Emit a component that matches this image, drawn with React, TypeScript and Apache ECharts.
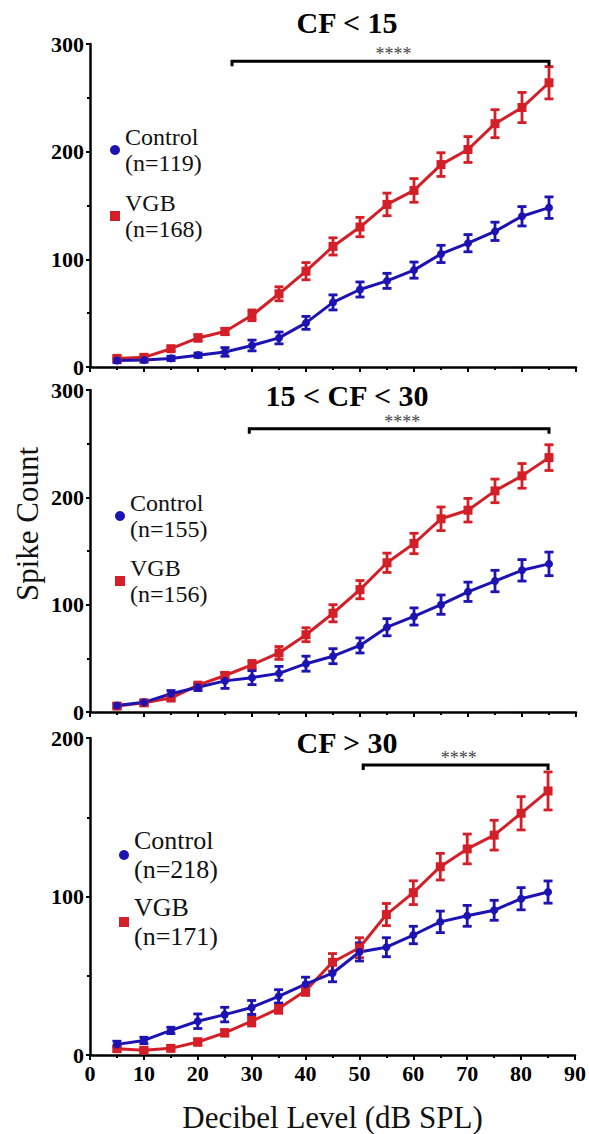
import React, { useEffect, useRef } from "react";
import * as echarts from "echarts";

// Sound levels (dB SPL) at which spikes were counted
const levels = [5, 10, 15, 20, 25, 30, 35, 40, 45, 50, 55, 60, 65, 70, 75, 80, 85];

// CF < 15
const control1 = [6, 6.5, 8, 11, 14, 20, 27, 41, 60, 72, 80, 90, 105, 115, 126, 140, 148];
const control1Err = [2, 2, 2, 2, 4, 5, 5.5, 6, 7, 7, 7, 7.5, 8, 8, 8.5, 9, 10];
const vgb1 = [8, 9, 17, 27, 33, 48, 68, 89, 112, 130, 151, 164, 188, 202, 226, 241, 264];
const vgb1Err = [2, 2, 2, 3, 3, 5, 6.5, 8, 8, 9, 10.5, 11, 11, 12, 13, 14, 15];

// 15 < CF < 30
const control2 = [6, 9, 17, 23, 29, 32, 36, 45, 52, 62, 79, 89, 100, 112, 122, 132, 138];
const control2Err = [2, 2, 3, 3, 7, 6.5, 6.5, 7, 7, 7, 8, 8, 9, 9, 10, 10, 11];
const vgb2 = [5.5, 8.5, 13, 25, 34, 44, 55, 72, 92, 114, 139, 157, 180, 188, 206, 220, 237];
const vgb2Err = [2, 2, 2, 2, 3, 4, 6, 6.5, 8, 8.5, 9, 9.5, 11, 11, 11, 11.5, 12];

// CF > 30
const control3 = [6.7, 9.2, 15.5, 21.3, 25.5, 30, 37, 44.7, 51.6, 65, 68, 75.7, 84, 87.8, 91.3, 98.6, 102.8];
const control3Err = [2, 2, 2, 4.6, 4.6, 4.4, 4.2, 4.4, 5.4, 5.7, 6, 5.5, 6.8, 6.6, 6.3, 7, 7];
const vgb3 = [4, 3, 4.2, 8.2, 14, 21.3, 29.3, 40.6, 58.5, 67.7, 88.6, 102.4, 118.8, 130, 138.7, 152.5, 166.6];
const vgb3Err = [1.5, 1.5, 1.5, 2, 2, 3, 3, 3, 5.5, 6.3, 7, 7.5, 8.4, 9.4, 9.4, 10.5, 12];

const panelTitles = ["CF < 15", "15 < CF < 30", "CF > 30"];
const controlNames = ["Control (n=119)", "Control (n=155)", "Control (n=218)"];
const vgbNames = ["VGB (n=168)", "VGB (n=156)", "VGB (n=171)"];
const yMax = [300, 300, 200];
// Significance brackets: [from dB, to dB, height in spike counts]
const brackets = [
  [26.3, 85, 284],
  [29.5, 85, 264],
  [50.7, 85, 183],
];
const xTicks = [0, 10, 20, 30, 40, 50, 60, 70, 80, 90];

const BLUE = "#1c13b2";
const RED = "#d31f27";
const SERIF = "Liberation Serif";

const grids = [
  { top: 44, height: 323 },
  { top: 390, height: 322 },
  { top: 738, height: 317 },
];

const errorBarRenderer = (color: string) => (params: any, api: any) => {
  const x = api.value(0);
  const lo = api.coord([x, api.value(1)]);
  const hi = api.coord([x, api.value(2)]);
  const w = 4.5;
  const style = { stroke: color, lineWidth: 2.8 };
  return {
    type: "group",
    children: [
      { type: "line", shape: { x1: lo[0], y1: lo[1], x2: hi[0], y2: hi[1] }, style },
      { type: "line", shape: { x1: lo[0] - w, y1: lo[1], x2: lo[0] + w, y2: lo[1] }, style },
      { type: "line", shape: { x1: hi[0] - w, y1: hi[1], x2: hi[0] + w, y2: hi[1] }, style },
    ],
  };
};

const bracketRenderer = (params: any, api: any) => {
  const a = api.coord([api.value(0), api.value(2)]);
  const b = api.coord([api.value(1), api.value(2)]);
  return {
    type: "group",
    children: [
      {
        type: "polyline",
        shape: { points: [[a[0], a[1] + 5], [a[0], a[1]], [b[0], b[1]], [b[0], b[1] + 5]] },
        style: { stroke: "#000", lineWidth: 3, fill: null },
      },
      {
        type: "text",
        x: (a[0] + b[0]) / 2 + 3,
        y: a[1] + 2,
        style: {
          text: "****",
          align: "center",
          verticalAlign: "bottom",
          fontSize: 18,
          fontFamily: SERIF,
          fill: "#444",
        },
      },
    ],
  };
};

const withErr = (vals: number[], errs: number[]) =>
  levels.map((l, i) => [l, vals[i] - errs[i], vals[i] + errs[i]]);

export default function App() {
  const ref = useRef<HTMLDivElement>(null);

  useEffect(() => {
    if (!ref.current) return;
    const chart = echarts.init(ref.current, null, { renderer: "svg" });

    const controls = [control1, control2, control3];
    const controlErrs = [control1Err, control2Err, control3Err];
    const vgbs = [vgb1, vgb2, vgb3];
    const vgbErrs = [vgb1Err, vgb2Err, vgb3Err];

    const xAxes = grids.map((g, i) => ({
      type: "value",
      gridIndex: i,
      min: 0,
      max: 90,
      interval: 10,
      axisLine: { show: true, lineStyle: { color: "#000", width: 2.5 } },
      axisTick: { show: true, length: 5, lineStyle: { color: "#000", width: 2 } },
      minorTick: { show: true, splitNumber: 2, length: 3, lineStyle: { color: "#000", width: 2 } },
      splitLine: { show: false },
      axisLabel: {
        show: i === 2,
        margin: 7,
        color: "#000",
        fontFamily: SERIF,
        fontWeight: "bold",
        fontSize: 22,
        formatter: (v: number) => (xTicks.includes(v) ? String(v) : ""),
      },
      name: i === 2 ? "Decibel Level (dB SPL)" : "",
      nameLocation: "middle",
      nameGap: 47,
      nameTextStyle: { color: "#111", fontFamily: SERIF, fontSize: 31 },
    }));

    const yAxes = grids.map((g, i) => ({
      type: "value",
      gridIndex: i,
      min: 0,
      max: yMax[i],
      interval: 100,
      axisLine: { show: true, lineStyle: { color: "#000", width: 2.5 } },
      axisTick: { show: true, length: 4, lineStyle: { color: "#000", width: 2 } },
      minorTick: { show: true, splitNumber: 2, length: 3, lineStyle: { color: "#000", width: 2 } },
      splitLine: { show: false },
      axisLabel: {
        margin: 6,
        color: "#000",
        fontFamily: SERIF,
        fontWeight: "bold",
        fontSize: 22,
      },
    }));

    const series: any[] = [];
    for (let i = 0; i < 3; i++) {
      series.push(
        {
          type: "custom",
          name: vgbNames[i],
          xAxisIndex: i,
          yAxisIndex: i,
          renderItem: errorBarRenderer(RED),
          data: withErr(vgbs[i], vgbErrs[i]),
          encode: { x: 0, y: [1, 2] },
          itemStyle: { color: RED },
        },
        {
          type: "line",
          name: vgbNames[i],
          xAxisIndex: i,
          yAxisIndex: i,
          data: levels.map((l, k) => [l, vgbs[i][k]]),
          symbol: "rect",
          symbolSize: 9,
          lineStyle: { color: RED, width: 3 },
          itemStyle: { color: RED },
        },
        {
          type: "custom",
          name: controlNames[i],
          xAxisIndex: i,
          yAxisIndex: i,
          renderItem: errorBarRenderer(BLUE),
          data: withErr(controls[i], controlErrs[i]),
          encode: { x: 0, y: [1, 2] },
          itemStyle: { color: BLUE },
        },
        {
          type: "line",
          name: controlNames[i],
          xAxisIndex: i,
          yAxisIndex: i,
          data: levels.map((l, k) => [l, controls[i][k]]),
          symbol: "circle",
          symbolSize: 8,
          lineStyle: { color: BLUE, width: 3 },
          itemStyle: { color: BLUE },
        },
        {
          type: "custom",
          name: "significance",
          xAxisIndex: i,
          yAxisIndex: i,
          renderItem: bracketRenderer,
          data: [brackets[i]],
          encode: { x: [0, 1], y: 2 },
          clip: false,
          silent: true,
        }
      );
    }

    const legendPos = [
      { left: 110, top: 124, gap: 14, size: 24, lh: 26 },
      { left: 115, top: 490, gap: 13, size: 24, lh: 26 },
      { left: 119, top: 826, gap: 9, size: 26, lh: 29 },
    ];
    const legends = legendPos.map((p, i) => ({
      orient: "vertical",
      left: p.left,
      top: p.top,
      padding: 0,
      itemGap: p.gap,
      itemWidth: 10,
      itemHeight: 10,
      selectedMode: false,
      data: [
        { name: controlNames[i], icon: "circle" },
        { name: vgbNames[i], icon: "rect" },
      ],
      formatter: (name: string) => name.replace(" ", "\n"),
      textStyle: { color: "#111", fontFamily: SERIF, fontSize: p.size, lineHeight: p.lh },
    }));

    const titleY = [22, 395, 742];
    const graphic: any[] = panelTitles.map((t, i) => ({
      type: "text",
      x: 347,
      y: titleY[i],
      style: {
        text: t,
        align: "center",
        verticalAlign: "middle",
        fontFamily: SERIF,
        fontWeight: "bold",
        fontSize: 30,
        fill: "#000",
      },
    }));
    graphic.push({
      type: "text",
      x: 27,
      y: 524,
      rotation: Math.PI / 2,
      style: {
        text: "Spike Count",
        align: "center",
        verticalAlign: "middle",
        fontFamily: SERIF,
        fontSize: 31,
        fill: "#111",
      },
    });

    chart.setOption({
      animation: false,
      backgroundColor: "#fff",
      grid: grids.map((g) => ({ left: 90, right: 13, top: g.top, height: g.height })),
      xAxis: xAxes,
      yAxis: yAxes,
      legend: legends,
      graphic,
      series,
    });

    return () => chart.dispose();
  }, []);

  return (
    <div
      ref={ref}
      style={{ position: "absolute", left: 0, top: 0, width: 589, height: 1134, background: "#fff" }}
    />
  );
}
